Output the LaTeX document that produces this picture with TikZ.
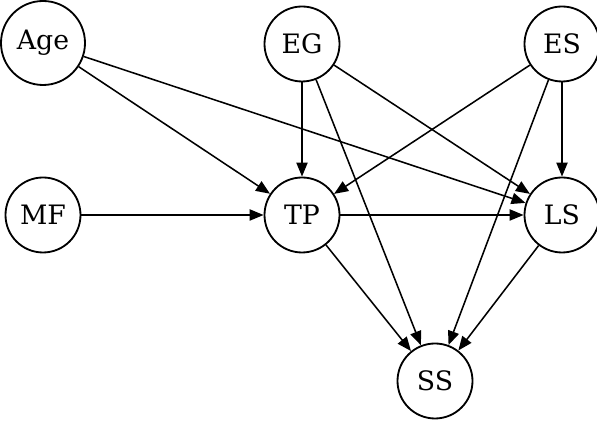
\documentclass[tikz,border=0pt]{standalone}
\usepackage{fontspec}
\setmainfont{DejaVu Serif}
\usetikzlibrary{arrows.meta}
\begin{document}
\begin{tikzpicture}
    % Node styles
    \tikzstyle{var_node} = [circle, draw, line width=1.3pt, minimum size=1.875cm, inner sep=0pt, font=\fontsize{19}{22}\selectfont]
    \tikzstyle{edge_style} = [line width=1.1pt, -{Triangle[length=10pt, width=8pt]}]

    \useasboundingbox (0,0) rectangle (14.925,10.575);

    % Nodes
    \node[var_node, minimum size=2.1cm] (Age) at (1.075,9.5) {Age};
    \node[var_node] (EG) at (7.55,9.475) {EG};
    \node[var_node] (ES) at (14.05,9.475) {ES};
    \node[var_node] (MF) at (1.075,5.2) {MF};
    \node[var_node] (TP) at (7.55,5.2) {TP};
    \node[var_node] (LS) at (14.05,5.2) {LS};
    \node[var_node] (SS) at (10.875,1.05) {SS};

    % Arrows
    \draw[edge_style] (Age) -- (TP);
    \draw[edge_style] (Age) -- (LS);
    \draw[edge_style] (EG) -- (TP);
    \draw[edge_style] (EG) -- (LS);
    \draw[edge_style] (EG) -- (SS);
    \draw[edge_style] (ES) -- (TP);
    \draw[edge_style] (ES) -- (LS);
    \draw[edge_style] (ES) -- (SS);
    \draw[edge_style] (MF) -- (TP);
    \draw[edge_style] (TP) -- (LS);
    \draw[edge_style] (TP) -- (SS);
    \draw[edge_style] (LS) -- (SS);
\end{tikzpicture}
\end{document}
